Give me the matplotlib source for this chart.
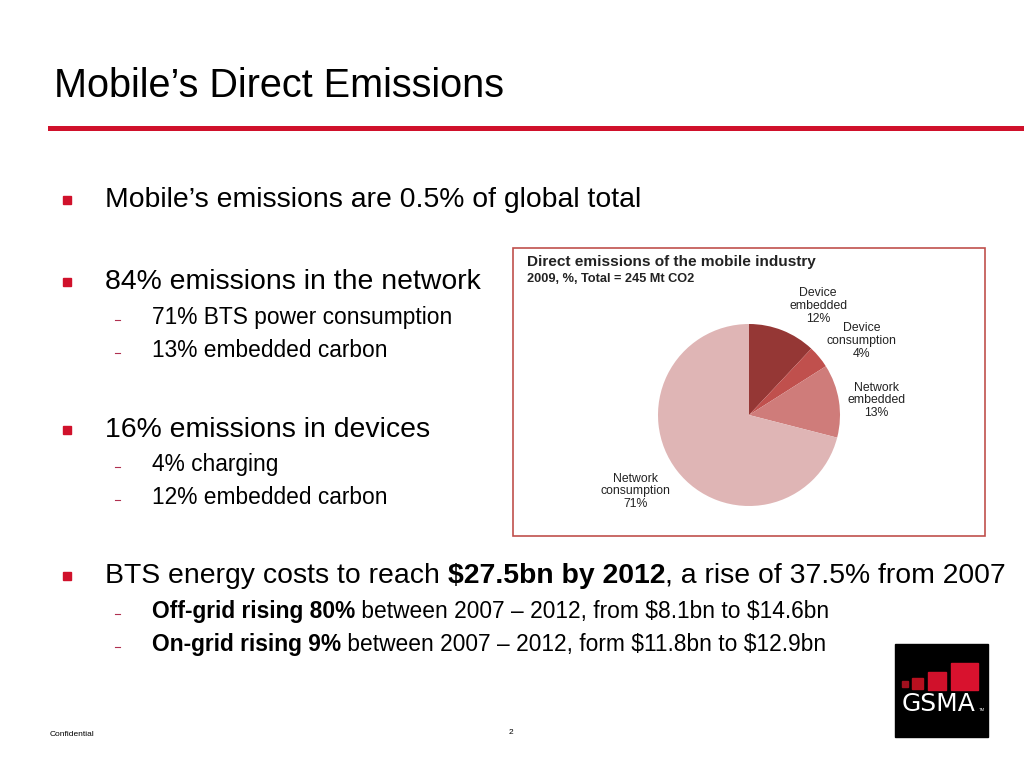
import matplotlib
matplotlib.use("Agg")
import matplotlib.pyplot as plt
from matplotlib.patches import Rectangle

W, H = 1024, 768
FONT = "Liberation Sans"
RED = "#d0112b"

# pie data (clockwise from 12 o'clock)
slice_names = ["Device\nembedded", "Device\nconsumption", "Network\nembedded", "Network\nconsumption"]
slice_values = [12, 4, 13, 71]
slice_colors = ["#953735", "#c0504d", "#cf7c7a", "#dfb5b5"]

chart_title = "Direct emissions of the mobile industry"
chart_subtitle = "2009, %, Total = 245 Mt CO2"

title = "Mobile\u2019s Direct Emissions"

# slide bullets: (level, baseline y px, list of (text, bold))
bullets = [
    (0, 207, [("Mobile\u2019s emissions are 0.5% of global total", False)]),
    (0, 289, [("84% emissions in the network", False)]),
    (1, 324, [("71% BTS power consumption", False)]),
    (1, 357, [("13% embedded carbon", False)]),
    (0, 437, [("16% emissions in devices", False)]),
    (1, 471, [("4% charging", False)]),
    (1, 504, [("12% embedded carbon", False)]),
    (0, 583, [("BTS energy costs to reach ", False), ("$27.5bn by 2012", True),
              (", a rise of 37.5% from 2007", False)]),
    (1, 618, [("Off-grid rising 80%", True),
              (" between 2007 \u2013 2012, from $8.1bn to $14.6bn", False)]),
    (1, 651, [("On-grid rising 9%", True),
              (" between 2007 \u2013 2012, form $11.8bn to $12.9bn", False)]),
]


def fx(x):
    return x / W


def fy(y):
    return 1 - y / H


fig = plt.figure(figsize=(W / 100, H / 100), dpi=100)
fig.patch.set_facecolor("white")
renderer = fig.canvas.get_renderer()

# title and rule
fig.text(fx(54), fy(97), title, fontsize=28.5, family=FONT, color="#000000", va="baseline")
fig.add_artist(plt.Line2D([fx(50), fx(1024)], [fy(128), fy(128)], color=RED, lw=3.6,
                          transform=fig.transFigure))


def draw_runs(x, y, runs, size):
    for txt, bold in runs:
        t = fig.text(fx(x), fy(y), txt, fontsize=size, family=FONT, va="baseline",
                     fontweight="bold" if bold else "normal", color="#000000",
                     parse_math=False)
        bb = t.get_window_extent(renderer=renderer)
        x += bb.width


for level, y, runs in bullets:
    if level == 0:
        fig.add_artist(Rectangle((fx(63), fy(y - 3)), 8 / W, 8 / H, color=RED,
                                 transform=fig.transFigure))
        draw_runs(105, y, runs, 20.4)
    else:
        fig.add_artist(plt.Line2D([fx(115), fx(120)], [fy(y - 4), fy(y - 4)], color="#b03050",
                                  lw=0.8, transform=fig.transFigure))
        draw_runs(152, y, runs, 16.4)

# chart box
fig.add_artist(Rectangle((fx(513), fy(536)), 472 / W, 288 / H, fill=False,
                         edgecolor="#c0504d", lw=1.2, transform=fig.transFigure))
fig.text(fx(527), fy(266), chart_title, fontsize=11.1, family=FONT, fontweight="bold",
         color="#222222", va="baseline")
fig.text(fx(527), fy(282), chart_subtitle, fontsize=9.2, family=FONT, fontweight="bold",
         color="#222222", va="baseline")

# pie
cx, cy, r = 749, 415, 91
ax = fig.add_axes([fx(cx - r), fy(cy + r), 2 * r / W, 2 * r / H])
labels = ["%s\n%d%%" % (n, v) for n, v in zip(slice_names, slice_values)]
wedges, texts = ax.pie(slice_values, colors=slice_colors, startangle=90, counterclock=False,
                       labels=labels, labeldistance=1.3,
                       textprops=dict(fontsize=8.8, family=FONT, color="#222222",
                                      linespacing=1.1))
# label placement as in the reference (in pie radius units)
label_pos = [(0.76, 1.20), (1.24, 0.81), (1.40, 0.16), (-1.25, -0.84)]
for t, p in zip(texts, label_pos):
    t.set_position(p)
    t.set_horizontalalignment("center")
    t.set_verticalalignment("center")
ax.set_xlim(-1, 1)
ax.set_ylim(-1, 1)
ax.set_aspect("equal")
ax.axis("off")

# footer
fig.text(fx(50), fy(736), "Confidential", fontsize=6, family=FONT, va="baseline")
fig.text(fx(511), fy(734), "2", fontsize=6, family=FONT, va="baseline", ha="center")

# GSMA logo
fig.add_artist(Rectangle((fx(895), fy(737)), 93 / W, 93 / H, color="#000000",
                         transform=fig.transFigure))
for x0, y0, s, c in [(902, 687, 6, "#a0101e"), (912, 689, 11, "#b8101f"),
                     (928, 690, 18, "#d0112b"), (951, 690, 27, "#d8122e")]:
    fig.add_artist(Rectangle((fx(x0), fy(y0)), s / W, s / H, color=c,
                             transform=fig.transFigure))
fig.text(fx(939), fy(711), "GSMA", fontsize=18, family="DejaVu Sans", color="white",
         va="baseline", ha="center")
fig.text(fx(979), fy(711), "TM", fontsize=3, family=FONT, color="white", va="baseline")

fig.savefig("out.png", dpi=100)
